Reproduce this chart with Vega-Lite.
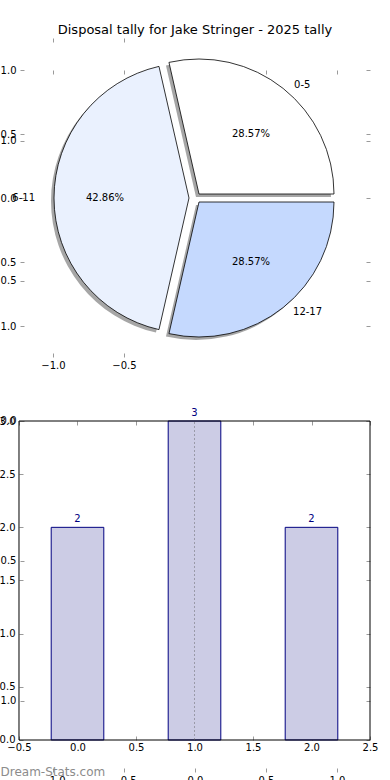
{
  "$schema": "https://vega.github.io/schema/vega-lite/v6.json",
  "width": 390,
  "height": 780,
  "autosize": "none",
  "padding": 0,
  "background": "white",
  "title": {"text": "Disposal tally for Jake Stringer - 2025 tally", "font": "DejaVu Sans", "fontSize": 13, "fontWeight": "normal", "color": "#000", "anchor": "middle", "baseline": "middle", "offset": -43},
  "config": {
    "font": "DejaVu Sans",
    "view": {"stroke": null},
    "axis": {"domain": false, "grid": false, "labelFontSize": 10, "labelColor": "#000", "labelFont": "DejaVu Sans", "labelOverlap": false, "labelFlush": false, "labelBound": false, "tickColor": "#9a9a9a", "tickWidth": 1, "tickSize": 4, "zindex": 1}
  },
  "datasets": {
    "pie": [
      {"range": "0-5", "lo": 0, "count": 2, "pct": "28.57%"},
      {"range": "6-11", "lo": 6, "count": 3, "pct": "42.86%"},
      {"range": "12-17", "lo": 12, "count": 2, "pct": "28.57%"}
    ],
    "bars": [
      {"pos": 0, "count": 2},
      {"pos": 1, "count": 3},
      {"pos": 2, "count": 2}
    ],
    "blank": [{}]
  },
  "resolve": {"scale": {"x": "independent", "y": "independent"}, "axis": {"x": "independent", "y": "independent"}},
  "layer": [
    {
      "data": {"name": "blank"},
      "mark": {"type": "point", "opacity": 0},
      "encoding": {
        "x": {"datum": 0, "type": "quantitative", "scale": {"domain": [-1.37324, 1.37324], "nice": false, "zero": false}, "axis": {"orient": "bottom", "offset": -8, "values": [-1, -0.5, 0, 0.5, 1], "format": ".1f", "tickSize": 0, "labelPadding": 3, "title": null}},
        "y": {"datum": 0, "type": "quantitative", "scale": {"domain": [-1.282143, 1.503571], "nice": false, "zero": false}, "axis": {"orient": "left", "offset": -20, "values": [-1, -0.5, 0, 0.5, 1], "format": ".1f", "tickSize": 0, "labelPadding": 4, "title": null}}
      }
    },
    {
      "data": {"name": "blank"},
      "mark": {"type": "point", "opacity": 0},
      "encoding": {
        "x": {"datum": 0, "type": "quantitative", "scale": {"domain": [-1.37324, 1.37324], "nice": false, "zero": false}, "axis": {"orient": "bottom", "offset": -710, "values": [-1, -0.5, 0, 0.5, 1], "labels": false, "title": null}},
        "y": {"datum": 0, "type": "quantitative", "scale": {"domain": [-1.282143, 1.503571], "nice": false, "zero": false}, "axis": {"orient": "right", "offset": -370, "values": [-1, -0.5, 0, 0.5, 1], "labels": false, "title": null}}
      }
    },
    {
      "data": {"name": "blank"},
      "mark": {"type": "point", "opacity": 0},
      "encoding": {
        "x": {"datum": 0, "type": "quantitative", "scale": {"domain": [-1.37324, 1.37324], "nice": false, "zero": false}, "axis": {"orient": "top", "offset": -772, "values": [-1, -0.5, 0, 0.5, 1], "labels": false, "title": null}},
        "y": {"datum": 0, "type": "quantitative", "scale": {"domain": [-1.282143, 1.503571], "nice": false, "zero": false}, "axis": {"orient": "left", "offset": -370, "values": [-1, -0.5, 0, 0.5, 1], "labels": false, "title": null}}
      }
    },
    {
      "data": {"name": "blank"},
      "mark": {"type": "point", "opacity": 0},
      "encoding": {
        "x": {"datum": 0, "type": "quantitative", "scale": {"domain": [-1.37324, 1.37324], "nice": false, "zero": false}, "axis": {"orient": "bottom", "offset": -742, "values": [-1, -0.5], "labels": false, "title": null}},
        "y": {"datum": 0, "type": "quantitative", "scale": {"domain": [-4.546875, 1.546875], "nice": false, "zero": false}, "axis": {"orient": "right", "offset": -370, "values": [-1, -0.5, 0, 0.5, 1], "labels": false, "title": null}}
      }
    },
    {
      "data": {"name": "blank"},
      "mark": {"type": "point", "opacity": 0},
      "encoding": {
        "x": {"datum": 0, "type": "quantitative", "scale": {"domain": [-1.37324, 1.37324], "nice": false, "zero": false}, "axis": {"orient": "top", "offset": -357, "values": [-1, -0.5], "labels": false, "title": null}},
        "y": {"datum": 0, "type": "quantitative", "scale": {"domain": [-4.546875, 1.546875], "nice": false, "zero": false}, "axis": {"orient": "left", "offset": -370, "values": [-1, -0.5, 0, 0.5, 1], "labels": false, "title": null}}
      }
    },
    {
      "data": {"name": "pie"},
      "encoding": {
        "x": {"datum": 0, "type": "quantitative", "scale": {"domain": [-1.37324, 1.37324], "nice": false, "zero": false}, "axis": {"orient": "bottom", "offset": -423, "values": [-1, -0.5], "format": ".1f", "tickSize": 0, "labelPadding": 3, "title": null}},
        "y": {"datum": 0, "type": "quantitative", "scale": {"domain": [-4.546875, 1.546875], "nice": false, "zero": false}, "axis": {"orient": "left", "offset": -20, "values": [-1, -0.5, 0, 0.5, 1], "format": ".1f", "tickSize": 0, "labelPadding": 4, "title": null}},
        "theta": {"field": "count", "type": "quantitative", "stack": true, "scale": {"range": [1.5708, 7.85398]}},
        "order": {"field": "lo", "type": "quantitative", "sort": "descending"}
      },
      "layer": [
        {"mark": {"type": "arc", "radius": 135, "fill": "#4d4d4d", "strokeWidth": 0, "xOffset": 1, "yOffset": -1},
         "encoding": {"opacity": {"condition": {"test": "datum.range === '0-5'", "value": 0.5}, "value": 0}}},
        {"mark": {"type": "arc", "radius": 135, "fill": "#4d4d4d", "strokeWidth": 0, "xOffset": -9, "yOffset": 3},
         "encoding": {"opacity": {"condition": {"test": "datum.range === '6-11'", "value": 0.5}, "value": 0}}},
        {"mark": {"type": "arc", "radius": 135, "fill": "#4d4d4d", "strokeWidth": 0, "xOffset": 1, "yOffset": 7},
         "encoding": {"opacity": {"condition": {"test": "datum.range === '12-17'", "value": 0.5}, "value": 0}}},
        {"mark": {"type": "arc", "radius": 135, "stroke": "#000", "strokeWidth": 0.8, "xOffset": 4, "yOffset": -4},
         "encoding": {
           "color": {"field": "range", "type": "nominal", "scale": {"domain": ["0-5", "6-11", "12-17"], "range": ["#ffffff", "#eaf1fe", "#c5d9fe"]}, "legend": null},
           "opacity": {"condition": {"test": "datum.range === '0-5'", "value": 1}, "value": 0}}},
        {"mark": {"type": "arc", "radius": 135, "stroke": "#000", "strokeWidth": 0.8, "xOffset": -6, "yOffset": 0},
         "encoding": {
           "color": {"field": "range", "type": "nominal", "scale": {"domain": ["0-5", "6-11", "12-17"], "range": ["#ffffff", "#eaf1fe", "#c5d9fe"]}, "legend": null},
           "opacity": {"condition": {"test": "datum.range === '6-11'", "value": 1}, "value": 0}}},
        {"mark": {"type": "arc", "radius": 135, "stroke": "#000", "strokeWidth": 0.8, "xOffset": 4, "yOffset": 4},
         "encoding": {
           "color": {"field": "range", "type": "nominal", "scale": {"domain": ["0-5", "6-11", "12-17"], "range": ["#ffffff", "#eaf1fe", "#c5d9fe"]}, "legend": null},
           "opacity": {"condition": {"test": "datum.range === '12-17'", "value": 1}, "value": 0}}},
        {"mark": {"type": "text", "radius": 81, "fontSize": 10, "color": "#000", "align": "center", "baseline": "middle", "xOffset": 4, "yOffset": -4, "dx": 1.5, "dy": 3.3},
         "encoding": {"text": {"field": "pct"}, "opacity": {"condition": {"test": "datum.range === '0-5'", "value": 1}, "value": 0}}},
        {"mark": {"type": "text", "radius": 81, "fontSize": 10, "color": "#000", "align": "center", "baseline": "middle", "xOffset": -6, "yOffset": 0, "dx": -3, "dy": 0},
         "encoding": {"text": {"field": "pct"}, "opacity": {"condition": {"test": "datum.range === '6-11'", "value": 1}, "value": 0}}},
        {"mark": {"type": "text", "radius": 81, "fontSize": 10, "color": "#000", "align": "center", "baseline": "middle", "xOffset": 4, "yOffset": 4, "dx": 1.5, "dy": -3.3},
         "encoding": {"text": {"field": "pct"}, "opacity": {"condition": {"test": "datum.range === '12-17'", "value": 1}, "value": 0}}},
        {"mark": {"type": "text", "radius": 150, "fontSize": 10, "color": "#000", "align": "left", "baseline": "middle", "xOffset": 4, "yOffset": -4, "dx": 1.5, "dy": 8.3},
         "encoding": {"text": {"field": "range"}, "opacity": {"condition": {"test": "datum.range === '0-5'", "value": 1}, "value": 0}}},
        {"mark": {"type": "text", "radius": 150, "fontSize": 10, "color": "#000", "align": "right", "baseline": "middle", "xOffset": -6, "yOffset": 0, "dx": -4, "dy": 0},
         "encoding": {"text": {"field": "range"}, "opacity": {"condition": {"test": "datum.range === '6-11'", "value": 1}, "value": 0}}},
        {"mark": {"type": "text", "radius": 150, "fontSize": 10, "color": "#000", "align": "left", "baseline": "middle", "xOffset": 4, "yOffset": 4, "dx": 0.5, "dy": -7.3},
         "encoding": {"text": {"field": "range"}, "opacity": {"condition": {"test": "datum.range === '12-17'", "value": 1}, "value": 0}}}
      ]
    },
    {
      "data": {"name": "bars"},
      "encoding": {
        "x": {"field": "pos", "type": "quantitative", "scale": {"domain": [-0.662393, 2.67094], "nice": false, "zero": false, "padding": 0},
              "axis": {"orient": "bottom", "offset": -40, "values": [-0.5, 0, 0.5, 1, 1.5, 2, 2.5], "format": ".1f", "tickSize": 0, "labelPadding": 2,
                       "title": "Dream-Stats.com", "titleAnchor": "start", "titleAlign": "left", "titleColor": "#8c8c8c", "titleFont": "DejaVu Sans", "titleFontSize": 12, "titleFontWeight": "normal", "titlePadding": 14}},
        "y": {"field": "count", "type": "quantitative", "scale": {"domain": [-0.376176, 6.959248], "nice": false, "zero": false},
              "axis": {"orient": "left", "offset": -19, "values": [0, 0.5, 1, 1.5, 2, 2.5, 3], "format": ".1f", "tickSize": 0, "labelPadding": 4, "title": null}}
      },
      "layer": [
        {"mark": {"type": "bar", "width": 52.6, "fill": "#ccccE5", "stroke": "#000080", "strokeWidth": 1}, "encoding": {"y2": {"datum": 0}}},
        {"mark": {"type": "text", "fontSize": 10, "color": "#000080", "baseline": "alphabetic", "align": "center", "dy": -5.5}, "encoding": {"text": {"field": "count"}}}
      ]
    },
    {
      "data": {"name": "blank"},
      "mark": {"type": "rule", "color": "#9a9aa8", "strokeDash": [2, 2], "strokeWidth": 1},
      "encoding": {
        "x": {"datum": 1, "type": "quantitative", "scale": {"domain": [-0.662393, 2.67094], "nice": false, "zero": false}, "axis": {"orient": "bottom", "offset": -359, "values": [-0.5, 0, 0.5, 1, 1.5, 2, 2.5], "labels": false, "title": null}},
        "y": {"datum": 0, "type": "quantitative", "scale": {"domain": [-0.376176, 6.959248], "nice": false, "zero": false}, "axis": {"orient": "right", "offset": -371, "values": [0, 0.5, 1, 1.5, 2, 2.5, 3], "labels": false, "title": null}},
        "y2": {"datum": 3}
      }
    },
    {
      "data": {"name": "blank"},
      "mark": {"type": "rect", "filled": false, "color": "#000", "stroke": "#000", "strokeWidth": 1},
      "encoding": {
        "x": {"datum": -0.5, "type": "quantitative", "scale": {"domain": [-0.662393, 2.67094], "nice": false, "zero": false, "padding": 0}, "axis": {"orient": "top", "offset": -740, "values": [-0.5, 0, 0.5, 1, 1.5, 2, 2.5], "labels": false, "title": null}},
        "x2": {"datum": 2.5},
        "y": {"datum": 0, "type": "quantitative", "scale": {"domain": [-0.376176, 6.959248], "nice": false, "zero": false, "padding": 0}, "axis": {"orient": "left", "offset": -370, "values": [0, 0.5, 1, 1.5, 2, 2.5, 3], "labels": false, "title": null}},
        "y2": {"datum": 3}
      }
    }
  ]
}
